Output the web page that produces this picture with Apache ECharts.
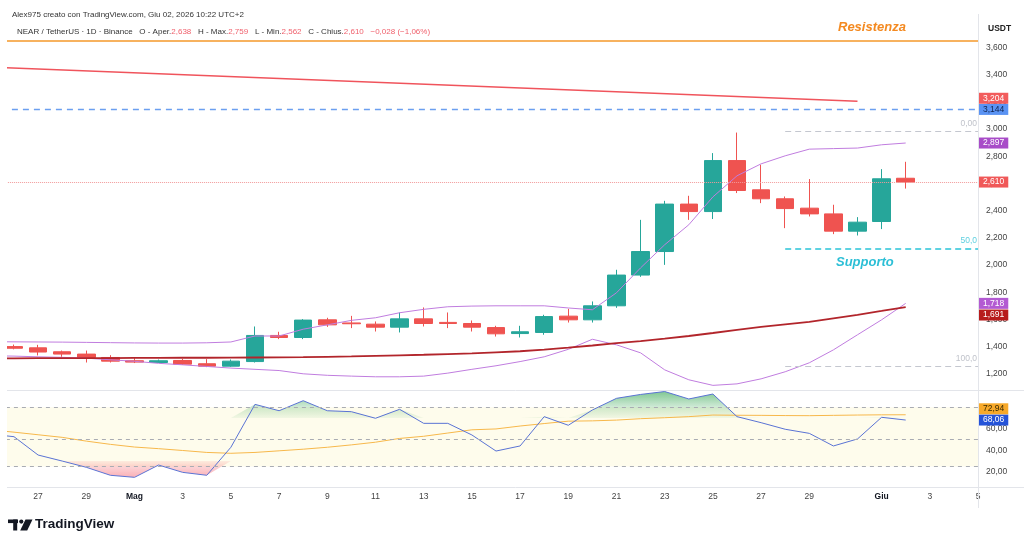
<!DOCTYPE html>
<html>
<head>
<meta charset="utf-8">
<title>NEAR / TetherUS 1D</title>
<script src="https://cdn.jsdelivr.net/npm/echarts@6/dist/echarts.min.js"></script>
<style>
  html, body { margin: 0; padding: 0; background: #fff; }
  #main { width: 1024px; height: 546px; }
</style>
</head>
<body>
<div id="main"></div>
<script>
// giorni dell'asse (25 apr .. 5 giu)
const days = [
  '25 apr', '26 apr', '27 apr', '28 apr', '29 apr', '30 apr',
  '1 mag', '2 mag', '3 mag', '4 mag', '5 mag', '6 mag', '7 mag', '8 mag', '9 mag', '10 mag',
  '11 mag', '12 mag', '13 mag', '14 mag', '15 mag', '16 mag', '17 mag', '18 mag', '19 mag', '20 mag',
  '21 mag', '22 mag', '23 mag', '24 mag', '25 mag', '26 mag', '27 mag', '28 mag', '29 mag', '30 mag', '31 mag',
  '1 giu', '2 giu', '3 giu', '4 giu', '5 giu'
];
const tickDays = ['27 apr', '29 apr', '1 mag', '3 mag', '5 mag', '7 mag', '9 mag', '11 mag', '13 mag', '15 mag',
  '17 mag', '19 mag', '21 mag', '23 mag', '25 mag', '27 mag', '29 mag', '1 giu', '3 giu', '5 giu'];
const tickText = ['27', '29', 'Mag', '3', '5', '7', '9', '11', '13', '15',
  '17', '19', '21', '23', '25', '27', '29', 'Giu', '3', '5'];

// candele 26 apr .. 2 giu
const open = [1400, 1391, 1362, 1345, 1320,
  1296, 1283, 1298, 1274, 1256, 1290, 1482, 1467, 1597, 1574,
  1565, 1543, 1604, 1578, 1570, 1540, 1496, 1504, 1624, 1597,
  1700, 1926, 2099, 2448, 2393, 2768, 2553, 2487, 2418, 2376, 2249,
  2320, 2638];
const high = [1415, 1413, 1371, 1371, 1337,
  1315, 1305, 1310, 1308, 1305, 1548, 1509, 1602, 1612, 1626,
  1585, 1651, 1688, 1651, 1592, 1553, 1553, 1634, 1678, 1732,
  1965, 2332, 2472, 2509, 2823, 2974, 2737, 2504, 2632, 2443, 2352,
  2705, 2759];
const low = [1380, 1335, 1325, 1283, 1283,
  1279, 1281, 1266, 1249, 1251, 1283, 1455, 1455, 1545, 1536,
  1511, 1504, 1548, 1536, 1511, 1474, 1467, 1487, 1577, 1577,
  1685, 1913, 2001, 2332, 2338, 2529, 2455, 2271, 2357, 2227, 2217,
  2264, 2562];
const close = [1388, 1360, 1345, 1320, 1293,
  1286, 1296, 1271, 1256, 1293, 1482, 1467, 1595, 1560, 1568,
  1543, 1604, 1570, 1570, 1543, 1494, 1509, 1621, 1597, 1700,
  1926, 2099, 2448, 2393, 2768, 2548, 2487, 2415, 2376, 2249, 2315,
  2634, 2610];

// indicatori 25 apr .. 2 giu
const bbUpper = [1436, 1435, 1434, 1433, 1431, 1429,
  1427, 1426, 1426, 1428, 1434, 1478, 1478, 1528, 1560, 1593,
  1612, 1649, 1674, 1693, 1698, 1700, 1700, 1700, 1684, 1671,
  1796, 1979, 2149, 2296, 2501, 2656, 2744, 2803, 2852, 2856, 2860,
  2884, 2897];
const bbLower = [1333, 1330, 1325, 1321, 1315, 1303,
  1292, 1277, 1266, 1254, 1242, 1233, 1224, 1200, 1189, 1183,
  1178, 1178, 1183, 1205, 1233, 1259, 1290, 1325, 1380, 1454,
  1413, 1354, 1229, 1156, 1115, 1126, 1163, 1215, 1281, 1376, 1487,
  1597, 1718];
const maRed = [1313, 1314, 1315, 1315, 1316, 1316,
  1317, 1317, 1318, 1318, 1319, 1320, 1321, 1322, 1325, 1328,
  1332, 1336, 1340, 1345, 1350, 1358, 1366, 1378, 1392, 1408,
  1425, 1440, 1458, 1478, 1500, 1523, 1545, 1564, 1582, 1608, 1634,
  1662, 1691];
const rsi = [55, 52.6, 35.6, 30, 24.2, 16.8,
  14.9, 26.3, 19.5, 16.8, 42.8, 82.6, 76.7, 86, 76.7, 75.8,
  69.7, 78, 65, 65, 54.2, 39.3, 44, 71.2, 63.2, 77.4,
  88.2, 91.8, 94.5, 87.6, 92.2, 71.2, 65.6, 59.5, 55.7, 44, 50.5,
  70.6, 68.06];
const rsiMa = [59, 56.8, 54.4, 52, 48.5, 45.5,
  43, 41.5, 39.8, 38, 37.2, 38, 39.5, 41, 42.8, 45,
  47.5, 51, 53, 56, 59, 59.8, 62.5, 64.8, 67, 67.3,
  68, 69.3, 70.2, 71.2, 72.7, 72.5, 72.4, 72.2, 72.1, 72.4, 72.7,
  72.9, 72.94];

// livelli disegnati
const trendStart = { day: '25 apr', value: 3455 };
const trendEnd = { day: '31 mag', value: 3204 };
const resistance = 3650;
const blueLevel = 3144;
const lastPrice = 2610;
const fibLevels = [2987, 2123, 1259];
const fibText = ['0,00', '50,0', '100,0'];
const fibFrom = '28 mag', fibTo = '5 giu';
const rsiBands = [80, 50, 25];

const FONT = 'Liberation Sans, Arial, sans-serif';
const fmt = v => v.toLocaleString('en-US');

const candleData = ['-'].concat(open.map((o, i) => [o, close[i], low[i], high[i]]));
const trend = days.map(d => d === trendStart.day ? trendStart.value : d === trendEnd.day ? trendEnd.value : null);

const tag = (value, text, bg, fg, dy) => ({
  yAxis: value,
  lineStyle: { color: 'transparent', width: 0 },
  label: {
    show: true, position: 'end', distance: 1, formatter: text,
    backgroundColor: bg, color: fg || '#fff', padding: [1, 4, 1, 4],
    fontSize: 8.5, fontFamily: FONT, offset: [0, dy || 0]
  }
});

const fibLine = (i, color, width, textColor) => [
  {
    coord: [fibFrom, fibLevels[i]], lineStyle: { color: color, width: width, type: [6, 4] },
    label: { show: true, position: 'insideEndTop', formatter: fibText[i], color: textColor, fontSize: 8.5, distance: [1, 3] }
  },
  { coord: [fibTo, fibLevels[i]] }
];

const chart = echarts.init(document.getElementById('main'));
const last = open.length - 1;

chart.setOption({
  animation: false,
  textStyle: { fontFamily: FONT },
  title: [
    {
      text: 'Alex975 creato con TradingView.com, Giu 02, 2026 10:22 UTC+2',
      left: 7, top: 6,
      textStyle: { fontSize: 8, fontWeight: 'normal', color: '#333', fontFamily: FONT }
    },
    {
      text: '{a|NEAR / TetherUS · 1D · Binance   O - Aper.}{v|' + fmt(open[last]) + '}' +
        '{a|   H - Max.}{v|' + fmt(high[last]) + '}' +
        '{a|   L - Min.}{v|' + fmt(low[last]) + '}' +
        '{a|   C - Chius.}{v|' + fmt(close[last]) + '}' +
        '{v|   −0,028 (−1,06%)}',
      left: 12, top: 23,
      textStyle: {
        fontWeight: 'normal',
        rich: {
          a: { fontSize: 8, fontWeight: 'normal', color: '#333', fontFamily: FONT },
          v: { fontSize: 8, fontWeight: 'normal', color: '#f0616d', fontFamily: FONT }
        }
      }
    }
  ],
  grid: [
    { left: -10.1, right: 46, top: 36, height: 365, outerBoundsMode: 'none', containLabel: false },
    { left: -10.1, right: 46, top: 391, height: 97, outerBoundsMode: 'none', containLabel: false }
  ],
  xAxis: [
    { type: 'category', gridIndex: 0, data: days, boundaryGap: false, show: false },
    {
      type: 'category', gridIndex: 1, data: days, boundaryGap: false,
      axisLine: { show: false }, axisTick: { show: false }, splitLine: { show: false },
      axisLabel: {
        interval: 0, margin: 4, fontSize: 8.5, color: '#444',
        formatter: v => {
          const i = tickDays.indexOf(v);
          if (i < 0) return '';
          const t = tickText[i];
          return /\d/.test(t) ? t : '{b|' + t + '}';
        },
        rich: { b: { fontSize: 8.5, fontWeight: 'bold', color: '#131722', fontFamily: FONT } }
      }
    }
  ],
  yAxis: [
    {
      type: 'value', gridIndex: 0, position: 'right', min: 1000, max: 3684, interval: 200,
      axisLine: { show: false }, axisTick: { show: false }, splitLine: { show: false },
      axisLabel: {
        margin: 8, fontSize: 8.5, color: '#444', showMaxLabel: false,
        formatter: v => (v <= 1000 ? '' : fmt(v))
      },
      name: 'USDT', nameLocation: 'end', nameGap: 3,
      nameTextStyle: { align: 'left', padding: [0, 0, 0, 10], fontSize: 8.5, fontWeight: 600, color: '#222' }
    },
    {
      type: 'value', gridIndex: 1, position: 'right', min: 5, max: 95, interval: 5,
      axisLine: { show: false }, axisTick: { show: false }, splitLine: { show: false },
      axisLabel: {
        margin: 8, fontSize: 8.5, color: '#444',
        formatter: v => ([20, 40, 60].indexOf(v) >= 0 ? v.toFixed(2).replace('.', ',') : '')
      }
    }
  ],
  series: [
    {
      name: 'NEAR', type: 'candlestick', xAxisIndex: 0, yAxisIndex: 0,
      data: candleData, barWidth: 18,
      itemStyle: { color: '#26a69a', color0: '#ef5350', borderColor: '#26a69a', borderColor0: '#ef5350', borderWidth: 1 },
      markLine: {
        silent: true, symbol: ['none', 'none'],
        data: [
          { yAxis: resistance, lineStyle: { color: '#f5982a', width: 1.5, type: 'solid' }, label: { show: false } },
          {
            yAxis: blueLevel, lineStyle: { color: '#6b9ff0', width: 1.3, type: [6, 5] },
            label: { show: true, position: 'end', distance: 1, formatter: fmt(blueLevel), backgroundColor: '#5a93f3', color: '#10234f', padding: [1, 4, 1, 4], fontSize: 8.5 }
          },
          {
            yAxis: lastPrice, lineStyle: { color: '#f29a9a', width: 1, type: 'dotted' },
            label: { show: true, position: 'end', distance: 1, formatter: fmt(lastPrice), backgroundColor: '#f05858', color: '#fff', padding: [1, 4, 1, 4], fontSize: 8.5 }
          },
          fibLine(0, '#c4c7cf', 1, '#c0c3cb'),
          fibLine(1, '#2bc3d8', 1.5, '#5fd0e0'),
          fibLine(2, '#c4c7cf', 1, '#c0c3cb')
        ]
      }
    },
    {
      name: 'Trend', type: 'line', xAxisIndex: 0, yAxisIndex: 0, data: trend, connectNulls: true,
      showSymbol: false, symbol: 'none', lineStyle: { color: '#f0545c', width: 1.5 }, z: 3,
      markLine: { silent: true, symbol: ['none', 'none'], data: [tag(trendEnd.value, fmt(trendEnd.value), '#f25c5c', '#fff', -3)] }
    },
    {
      name: 'BB sup', type: 'line', xAxisIndex: 0, yAxisIndex: 0, data: bbUpper,
      showSymbol: false, symbol: 'none', lineStyle: { color: '#c07ddf', width: 1 },
      markLine: { silent: true, symbol: ['none', 'none'], data: [tag(bbUpper[bbUpper.length - 1], fmt(bbUpper[bbUpper.length - 1]), '#a84cc8')] }
    },
    {
      name: 'BB inf', type: 'line', xAxisIndex: 0, yAxisIndex: 0, data: bbLower,
      showSymbol: false, symbol: 'none', lineStyle: { color: '#c07ddf', width: 1 },
      markLine: { silent: true, symbol: ['none', 'none'], data: [tag(bbLower[bbLower.length - 1], fmt(bbLower[bbLower.length - 1]), '#b35ad2')] }
    },
    {
      name: 'MA', type: 'line', xAxisIndex: 0, yAxisIndex: 0, data: maRed,
      showSymbol: false, symbol: 'none', lineStyle: { color: '#b2252b', width: 1.8 },
      markLine: { silent: true, symbol: ['none', 'none'], data: [tag(maRed[maRed.length - 1], fmt(maRed[maRed.length - 1]), '#b71c1c', '#fff', 8)] }
    },
    // riempimenti RSI
    {
      name: 'g0', type: 'line', xAxisIndex: 1, yAxisIndex: 1, stack: 'g', silent: true,
      data: rsi.map(() => 70), showSymbol: false, symbol: 'none', lineStyle: { opacity: 0 }
    },
    {
      name: 'g1', type: 'line', xAxisIndex: 1, yAxisIndex: 1, stack: 'g', silent: true,
      data: rsi.map(v => Math.max(v - 70, 0)), showSymbol: false, symbol: 'none', lineStyle: { opacity: 0 },
      areaStyle: {
        color: { type: 'linear', x: 0, y: 391, x2: 0, y2: 422, global: true,
          colorStops: [{ offset: 0, color: 'rgba(50,165,80,0.9)' }, { offset: 0.5, color: 'rgba(50,165,80,0.35)' }, { offset: 1, color: 'rgba(50,165,80,0)' }] }
      }
    },
    {
      name: 'r0', type: 'line', xAxisIndex: 1, yAxisIndex: 1, stack: 'r', silent: true,
      data: rsi.map(v => Math.min(v, 30)), showSymbol: false, symbol: 'none', lineStyle: { opacity: 0 }
    },
    {
      name: 'r1', type: 'line', xAxisIndex: 1, yAxisIndex: 1, stack: 'r', silent: true,
      data: rsi.map(v => 30 - Math.min(v, 30)), showSymbol: false, symbol: 'none', lineStyle: { opacity: 0 },
      areaStyle: {
        color: { type: 'linear', x: 0, y: 458, x2: 0, y2: 479, global: true,
          colorStops: [{ offset: 0, color: 'rgba(242,54,69,0.02)' }, { offset: 0.4, color: 'rgba(242,54,69,0.3)' }, { offset: 1, color: 'rgba(242,54,69,0.6)' }] }
      }
    },
    {
      name: 'RSI', type: 'line', xAxisIndex: 1, yAxisIndex: 1, data: rsi, z: 4,
      showSymbol: false, symbol: 'none', lineStyle: { color: '#5a73d4', width: 1 },
      markArea: {
        silent: true,
        itemStyle: { color: 'rgba(250, 240, 170, 0.22)' },
        data: [[{ yAxis: rsiBands[2] }, { yAxis: rsiBands[0] }]]
      },
      markLine: {
        silent: true, symbol: ['none', 'none'],
        data: rsiBands.map(b => ({ yAxis: b, lineStyle: { color: '#a9acb3', width: 1, type: [4, 4] }, label: { show: false } }))
          .concat([tag(rsi[rsi.length - 1], '68,06', '#2453d8')])
      }
    },
    {
      name: 'RSI MA', type: 'line', xAxisIndex: 1, yAxisIndex: 1, data: rsiMa, z: 3,
      showSymbol: false, symbol: 'none', lineStyle: { color: '#f7b84b', width: 1 },
      markLine: { silent: true, symbol: ['none', 'none'], data: [tag(rsiMa[rsiMa.length - 1], '72,94', '#f7a92a', '#3a2a00', -6)] }
    }
  ],
  graphic: [
    { type: 'rect', z: 100, silent: true, shape: { x: 0, y: 34, width: 7, height: 470 }, style: { fill: '#fff' } },
    { type: 'line', z: 90, silent: true, shape: { x1: 978.5, y1: 14, x2: 978.5, y2: 508 }, style: { stroke: '#e3e5ea', lineWidth: 1 } },
    { type: 'line', z: 90, silent: true, shape: { x1: 7, y1: 390.5, x2: 1024, y2: 390.5 }, style: { stroke: '#e3e5ea', lineWidth: 1 } },
    { type: 'line', z: 90, silent: true, shape: { x1: 7, y1: 487.5, x2: 1024, y2: 487.5 }, style: { stroke: '#e3e5ea', lineWidth: 1 } },
    { type: 'text', z: 95, left: 838, top: 21,
      style: { text: 'Resistenza', fill: '#f48a21', font: 'italic bold 13px ' + FONT } },
    { type: 'text', z: 95, left: 836, top: 256,
      style: { text: 'Supporto', fill: '#2cbfd6', font: 'italic bold 13px ' + FONT } },
    // logo TradingView
    { type: 'rect', shape: { x: 8, y: 519.5, width: 10, height: 3.6 }, style: { fill: '#131722' } },
    { type: 'rect', shape: { x: 13.2, y: 519.5, width: 4, height: 11 }, style: { fill: '#131722' } },
    { type: 'circle', shape: { cx: 21.3, cy: 521.6, r: 2.1 }, style: { fill: '#131722' } },
    { type: 'polygon', shape: { points: [[25.5, 519.5], [32.5, 519.5], [27.2, 530.5], [20.2, 530.5]] }, style: { fill: '#131722' } },
    { type: 'text', left: 35, top: 517.5,
      style: { text: 'TradingView', fill: '#131722', font: 'bold 13.5px ' + FONT } }
  ]
});
</script>
</body>
</html>
